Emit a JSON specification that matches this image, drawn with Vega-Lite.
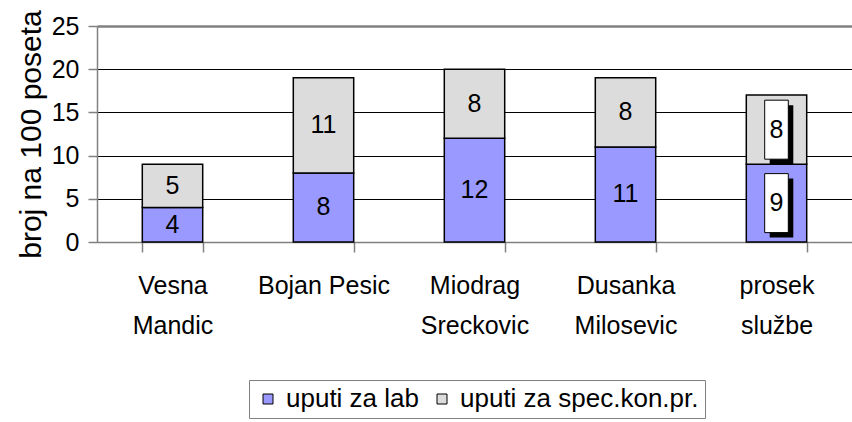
{
  "$schema": "https://vega.github.io/schema/vega-lite/v6.json",
  "width": 755,
  "height": 216,
  "autosize": "none",
  "padding": {"left": 97, "top": 26, "right": 0, "bottom": 180},
  "background": "white",
  "config": {
    "font": "Liberation Sans",
    "view": {"stroke": null},
    "legend": {
      "orient": "none",
      "legendX": 152,
      "legendY": 354,
      "direction": "horizontal",
      "strokeColor": "#808080",
      "padding": 6,
      "labelFontSize": 26,
      "labelColor": "black",
      "labelFont": "Liberation Sans",
      "labelLimit": 0,
      "symbolType": "square",
      "symbolSize": 100,
      "symbolStrokeColor": "black",
      "symbolStrokeWidth": 1,
      "columnPadding": 10,
      "labelOffset": 5,
      "symbolOpacity": 1
    }
  },
  "data": {
    "values": [
      {"name": "Vesna Mandic", "series": "uputi za lab", "value": 4},
      {"name": "Vesna Mandic", "series": "uputi za spec.kon.pr.", "value": 5},
      {"name": "Bojan Pesic", "series": "uputi za lab", "value": 8},
      {"name": "Bojan Pesic", "series": "uputi za spec.kon.pr.", "value": 11},
      {"name": "Miodrag Sreckovic", "series": "uputi za lab", "value": 12},
      {"name": "Miodrag Sreckovic", "series": "uputi za spec.kon.pr.", "value": 8},
      {"name": "Dusanka Milosevic", "series": "uputi za lab", "value": 11},
      {"name": "Dusanka Milosevic", "series": "uputi za spec.kon.pr.", "value": 8},
      {"name": "prosek službe", "series": "uputi za lab", "value": 9},
      {"name": "prosek službe", "series": "uputi za spec.kon.pr.", "value": 8}
    ]
  },
  "transform": [
    {"stack": "value", "groupby": ["name"], "sort": [{"field": "series", "order": "ascending"}], "as": ["y0", "y1"]},
    {"calculate": "(datum.y0 + datum.y1) / 2", "as": "mid"}
  ],
  "layer": [
    {
      "mark": {"type": "bar", "stroke": "black", "strokeWidth": 1.5},
      "encoding": {
        "x": {
          "field": "name", "type": "nominal", "sort": null,
          "scale": {"paddingInner": 0.6, "paddingOuter": 0.3},
          "axis": {
            "title": null,
            "labelAngle": 0,
            "labelFontSize": 25,
            "labelColor": "black",
            "labelExpr": "!isString(datum.value) ? '' : (datum.value == 'Bojan Pesic' ? datum.value : split(datum.value, ' '))",
            "labelLineHeight": 40,
            "labelBaseline": "top",
            "labelPadding": 21,
            "tickBand": "extent",
            "tickSize": 10,
            "tickColor": "#808080",
            "tickWidth": 1.5,
            "domainColor": "#808080",
            "domainWidth": 1.5,
            "grid": false
          }
        },
        "y": {
          "field": "y0", "type": "quantitative",
          "scale": {"domain": [0, 25], "nice": false},
          "axis": {
            "title": "broj na 100 poseta",
            "titleFontSize": 30,
            "titleFontWeight": "normal",
            "titleColor": "black",
            "titlePadding": 5,
            "values": [0, 5, 10, 15, 20, 25],
            "labelFontSize": 25,
            "labelColor": "black",
            "labelPadding": 9,
            "tickSize": 9,
            "tickColor": "#808080",
            "tickWidth": 1.5,
            "domainColor": "#808080",
            "domainWidth": 1.5,
            "grid": true,
            "gridColor": {"condition": {"test": "datum.value == 25", "value": "#808080"}, "value": "#000000"},
            "gridWidth": {"condition": {"test": "datum.value == 25", "value": 2.5}, "value": 1}
          }
        },
        "y2": {"field": "y1"},
        "color": {
          "field": "series", "type": "nominal",
          "scale": {"domain": ["uputi za lab", "uputi za spec.kon.pr."], "range": ["#9999FF", "#DCDCDC"]},
          "legend": {"title": null}
        }
      }
    },
    {
      "transform": [{"filter": "datum.name == 'prosek službe'"}],
      "mark": {"type": "point", "filled": true, "color": "black", "opacity": 1, "shape": "M-0.4,-1H0.4V1H-0.4Z", "size": 3481, "xOffset": 5, "yOffset": 5},
      "encoding": {
        "x": {"field": "name", "type": "nominal", "sort": null},
        "y": {"field": "mid", "type": "quantitative"}
      }
    },
    {
      "transform": [{"filter": "datum.name == 'prosek službe'"}],
      "mark": {"type": "point", "filled": true, "color": "white", "stroke": "black", "strokeWidth": 1, "opacity": 1, "shape": "M-0.4,-1H0.4V1H-0.4Z", "size": 3481},
      "encoding": {
        "x": {"field": "name", "type": "nominal", "sort": null},
        "y": {"field": "mid", "type": "quantitative"}
      }
    },
    {
      "mark": {"type": "text", "fontSize": 25, "color": "black", "baseline": "middle", "align": "center"},
      "encoding": {
        "x": {"field": "name", "type": "nominal", "sort": null},
        "y": {"field": "mid", "type": "quantitative"},
        "text": {"field": "value", "type": "quantitative"}
      }
    }
  ]
}
